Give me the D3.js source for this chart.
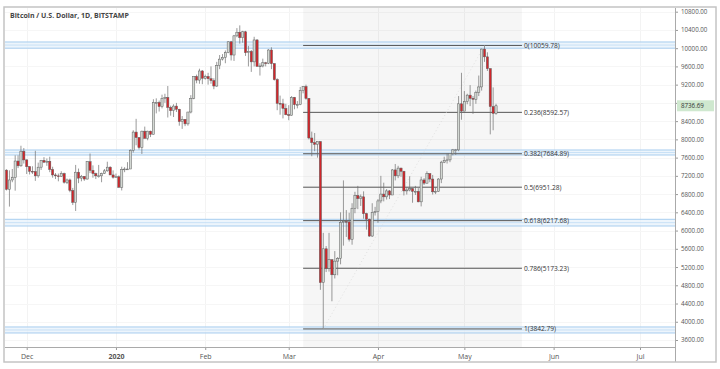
<!DOCTYPE html>
<html><head><meta charset="utf-8">
<script src="https://cdn.jsdelivr.net/npm/d3@7"></script>
<style>body{margin:0;background:#fff}svg{display:block}text{font-family:"Open Sans",sans-serif}</style>
</head><body><svg id="c" width="720" height="369"></svg>
<script>
const title = "Bitcoin / U.S. Dollar, 1D, BITSTAMP";
const firstDay = "2019-11-24";
// [open, high, low, close] per day
const nov = [
[7325,7344,6880,6906],[6906,7320,6526,7110],[7110,7350,7060,7160],[7160,7650,6875,7525],
[7525,7650,7370,7420],[7420,7860,7400,7740],[7740,7810,7470,7550]];
const dec = [
[7550,7560,7240,7400],[7400,7415,7230,7300],[7300,7410,7240,7295],[7295,7750,7090,7200],
[7200,7490,7160,7390],[7390,7550,7330,7540],[7540,7610,7480,7500],[7500,7580,7420,7520],
[7520,7620,7280,7340],[7340,7400,7160,7220],[7220,7260,7130,7200],[7200,7250,7080,7190],
[7190,7300,7180,7250],[7250,7270,7030,7060],[7060,7140,7020,7110],[7110,7140,6840,6880],
[6880,6935,6560,6620],[6620,7440,6430,7280],[7280,7360,7040,7150],[7150,7220,7080,7190],
[7190,7190,7090,7130],[7130,7520,7120,7510],[7510,7690,7260,7320],[7320,7430,7160,7250],
[7250,7270,7130,7200],[7200,7440,7160,7200],[7200,7270,7060,7250],[7250,7350,7240,7310],
[7310,7510,7290,7390],[7390,7410,7220,7220],[7220,7320,7140,7170]];
const jan = [
[7170,7250,7160,7180],[7180,7210,6940,6950],[6950,7400,6880,7340],[7340,7390,7280,7350],
[7350,7500,7330,7350],[7350,7780,7350,7760],[7760,8200,7710,8160],[8160,8450,7870,8040],
[8040,8050,7780,7820],[7820,8190,7680,8180],[8180,8280,8050,8020],[8020,8190,7980,8180],
[8180,8190,8050,8110],[8110,8880,8110,8810],[8810,8900,8570,8810],[8810,8850,8610,8720],
[8720,8980,8680,8900],[8900,9000,8800,8920],[8920,9170,8480,8700],[8700,8740,8520,8630],
[8630,8770,8490,8730],[8730,8800,8600,8660],[8660,8670,8300,8390],[8390,8510,8230,8440],
[8440,8440,8290,8340],[8340,8600,8300,8600],[8600,8970,8570,8900],[8900,9380,8880,9380],
[9380,9420,9230,9300],[9300,9550,9220,9500],[9500,9520,9210,9340]];
const feb = [
[9340,9420,9310,9380],[9380,9460,9200,9330],[9330,9600,9220,9290],[9290,9340,9100,9170],
[9170,9700,9150,9620],[9620,9850,9540,9760],[9760,9870,9730,9800],[9800,9950,9670,9900],
[9900,10150,9890,10140],[10140,10160,9730,9850],[9850,10290,9720,10270],[10270,10440,10240,10350],
[10350,10500,10100,10230],[10230,10380,10120,10360],[10360,10380,9830,9900],[9900,10050,9600,9930],
[9930,9960,9480,9700],[9700,10250,9600,10180],[10180,10200,9600,9600],[9600,9670,9400,9610],
[9610,9770,9580,9680],[9680,9700,9600,9670],[9670,9980,9650,9960],[9960,10020,9540,9660],
[9660,9670,9290,9310],[9310,9340,8640,8790],[8790,8960,8540,8780],[8780,8890,8460,8680],
[8680,8780,8530,8540]];
const mar = [
[8540,8750,8420,8530],[8530,8950,8520,8920],[8920,8930,8660,8760],[8760,8840,8680,8760],
[8760,9150,8750,9070],[9070,9170,9010,9160],[9160,9200,8870,8900],[8900,8900,8000,8030],
[8030,8170,7630,7930],[7930,8140,7740,7890],[7890,7950,7600,7950],[7950,7960,4700,4860],
[4860,5950,3842.79,5600],[5600,5660,5090,5170],[5170,5950,5100,5360],[5360,5370,4450,5030],
[5030,5550,4950,5330],[5330,5420,5020,5390],[5390,6400,5260,6180],[6180,7100,5670,6200],
[6200,6450,5860,6190],[6190,6390,5760,5810],[5810,6600,5690,6490],[6490,6850,6380,6770],
[6770,6980,6470,6700],[6700,6790,6540,6740],[6740,6860,6260,6370],[6370,6390,6020,6250],
[6250,6260,5860,5880],[5880,6600,5860,6400],[6400,6520,6330,6420]];
const apr = [
[6420,6690,6170,6650],[6650,7200,6600,6800],[6800,7050,6640,6740],[6740,6910,6680,6870],
[6870,6890,6690,6780],[6780,7350,6780,7330],[7330,7460,7100,7200],[7200,7420,7150,7370],
[7370,7380,7180,7300],[7300,7310,6770,6870],[6870,6950,6790,6890],[6890,7190,6860,6920],
[6920,6930,6610,6860],[6860,6980,6780,6860],[6860,6930,6620,6630],[6630,7180,6530,7110],
[7110,7150,7000,7040],[7040,7300,7030,7250],[7250,7250,7060,7130],[7130,7220,6790,6850],
[6850,6950,6800,6860],[6860,7150,6850,7130],[7130,7530,7040,7500],[7500,7620,7480,7540],
[7540,7700,7470,7550],[7550,7700,7500,7690],[7690,7790,7650,7770],[7770,7790,7660,7770],
[7770,8950,7740,8780],[8780,9460,8430,8620]];
const may = [
[8620,9060,8620,8830],[8830,9000,8770,8970],[8970,9190,8730,8900],[8900,8950,8560,8880],
[8880,9070,8780,9030],[9030,9400,8950,9150],[9150,9990,9070,9980],[9980,10059.78,9700,9810],
[9810,9910,9500,9550],[9550,9560,8110,8720],[8720,9140,8200,8570],[8570,8780,8540,8736.69]];

const yTicks = [3600,4000,4400,4800,5200,5600,6000,6400,6800,7200,7600,8000,8400,8800,9200,9600,10000,10400,10800];
const monthTicks = ["2019-12-01","2020-01-01","2020-02-01","2020-03-01","2020-04-01","2020-05-01","2020-06-01","2020-07-01"];
const monthLabels = ["Dec","2020","Feb","Mar","Apr","May","Jun","Jul"];
const fibLevels = ["0","0.236","0.382","0.5","0.618","0.786","1"];
const fibPrices = [10059.78,8592.57,7684.89,6951.28,6217.68,5173.23,3842.79];
const fibRange = ["2020-03-06","2020-05-21"];
const trendFrom = ["2020-03-13",3842.79], trendTo = ["2020-05-08",10059.78];
const bandLow  = [10000,7657,6100,3754];
const bandHigh = [10136,7767,6247,3886];
const lastPrice = 8736.69;

const pd = s => new Date(s + "T00:00:00Z");
const rows = [...nov,...dec,...jan,...feb,...mar,...apr,...may];
const start = pd(firstDay);
const data = rows.map((r,i)=>({date:d3.utcDay.offset(start,i),o:r[0],h:r[1],l:r[2],c:r[3]}));

const L=5,R=675,T=8,B=347;
const x = d3.scaleUtc().domain([pd("2019-12-01"),pd("2020-07-01")]).range([26.7,640]);
const y = d3.scaleLinear().domain([3600,10800]).range([340,11.7]);

const svg = d3.select("#c");
svg.append("defs").append("clipPath").attr("id","pc").append("rect")
  .attr("x",L).attr("y",T).attr("width",R-L).attr("height",B-T);

// grid
const g0 = svg.append("g");
g0.selectAll("line.vg").data(monthTicks).join("line")
  .attr("x1",d=>Math.round(x(pd(d)))+0.5).attr("x2",d=>Math.round(x(pd(d)))+0.5)
  .attr("y1",T).attr("y2",B).attr("stroke","#f3f3f3");
g0.selectAll("line.hg").data(yTicks).join("line")
  .attr("x1",L).attr("x2",R).attr("y1",d=>Math.round(y(d))+0.5).attr("y2",d=>Math.round(y(d))+0.5)
  .attr("stroke","#f6f6f6");

// fib shaded area
const fx0 = x(pd(fibRange[0])), fx1 = x(pd(fibRange[1]));
svg.append("rect").attr("x",fx0).attr("y",T).attr("width",fx1-fx0).attr("height",B-T)
  .attr("fill","#000").attr("fill-opacity",0.035);

// bands
const gb = svg.append("g").attr("clip-path","url(#pc)");
bandLow.forEach((lo,i)=>{
  const hi = bandHigh[i];
  gb.append("rect").attr("x",L).attr("width",R-L).attr("y",y(hi)).attr("height",y(lo)-y(hi))
    .attr("fill","#e6f1fb").attr("fill-opacity",0.7);
  [hi,(hi+lo)/2,lo].forEach((v,k)=>{
    gb.append("line").attr("x1",L).attr("x2",R).attr("y1",y(v)).attr("y2",y(v))
      .attr("stroke", k===1?"#c9e1f6":"#a7cdef").attr("stroke-width",1);
  });
});

// fib lines
const gf = svg.append("g");
fibPrices.forEach((p,i)=>{
  gf.append("line").attr("x1",fx0).attr("x2",fx1).attr("y1",y(p)).attr("y2",y(p))
    .attr("stroke","#555").attr("stroke-width",1);
  gf.append("text").attr("x",fx1+2).attr("y",y(p)).attr("dy","0.35em")
    .attr("font-size",6.6).attr("fill","#333").text(fibLevels[i]+"("+p.toFixed(2)+")");
});
// trend line (dotted)
gf.append("line").attr("x1",x(pd(trendFrom[0]))).attr("y1",y(trendFrom[1]))
  .attr("x2",x(pd(trendTo[0]))).attr("y2",y(trendTo[1]))
  .attr("stroke","#d4d4d4").attr("stroke-width",0.7).attr("stroke-dasharray","1,2.5");

// candles
const bw = 2.2;
const gc = svg.append("g").attr("clip-path","url(#pc)");
const cg = gc.selectAll("g").data(data).join("g");
cg.append("line").attr("x1",d=>x(d.date)).attr("x2",d=>x(d.date))
  .attr("y1",d=>y(d.h)).attr("y2",d=>y(d.l)).attr("stroke","#6f6f6f").attr("stroke-width",0.7);
cg.append("rect").attr("x",d=>x(d.date)-bw/2).attr("width",bw)
  .attr("y",d=>y(Math.max(d.o,d.c))).attr("height",d=>Math.max(0.8,Math.abs(y(d.o)-y(d.c))))
  .attr("fill",d=>d.c>=d.o?"#d3d8d3":"#d1262b").attr("stroke","#5e5e5e").attr("stroke-width",0.5);

// axes
const ax = svg.append("g").attr("transform",`translate(0,${B})`)
  .call(d3.axisBottom(x).tickValues(monthTicks.map(pd)).tickSize(3).tickFormat((d,i)=>monthLabels[i]));
ax.select(".domain").remove();
ax.selectAll(".tick line").attr("stroke","#999");
ax.selectAll(".tick text").attr("font-size",7).attr("fill","#555").attr("dy","0.9em")
  .attr("font-weight",(d,i)=>monthLabels[i]==="2020"?"bold":"normal").attr("font-family","Open Sans, sans-serif");

const ay = svg.append("g").attr("transform",`translate(${R},0)`)
  .call(d3.axisRight(y).tickValues(yTicks).tickSize(3)
    .tickFormat(d=>Math.abs(y(d)-y(lastPrice))<9 ? "" : d3.format(".2f")(d)));
ay.select(".domain").remove();
ay.selectAll(".tick line").attr("stroke","#999");
ay.selectAll(".tick text").attr("font-size",6.2).attr("fill","#555").attr("x",6).attr("font-family","Open Sans, sans-serif");

// axis lines and frame
svg.append("line").attr("x1",L).attr("x2",R).attr("y1",B+0.5).attr("y2",B+0.5).attr("stroke","#aaa");
svg.append("line").attr("x1",R+0.5).attr("x2",R+0.5).attr("y1",T).attr("y2",362).attr("stroke","#aaa");
svg.append("rect").attr("x",4).attr("y",7).attr("width",712).attr("height",355)
  .attr("fill","none").attr("stroke","#c4c4c4").attr("stroke-width",1.5);

// last price label
const ly = y(lastPrice);
svg.append("rect").attr("x",R+2).attr("y",ly-5.5).attr("width",37).attr("height",11).attr("fill","#cfe8cf");
svg.append("text").attr("x",R+6).attr("y",ly).attr("dy","0.35em").attr("font-size",6.2)
  .attr("fill","#333").text(lastPrice.toFixed(2));

// title
svg.append("text").attr("x",10).attr("y",18).attr("font-size",7).attr("font-weight","bold")
  .attr("fill","#444").text(title);
</script></body></html>
